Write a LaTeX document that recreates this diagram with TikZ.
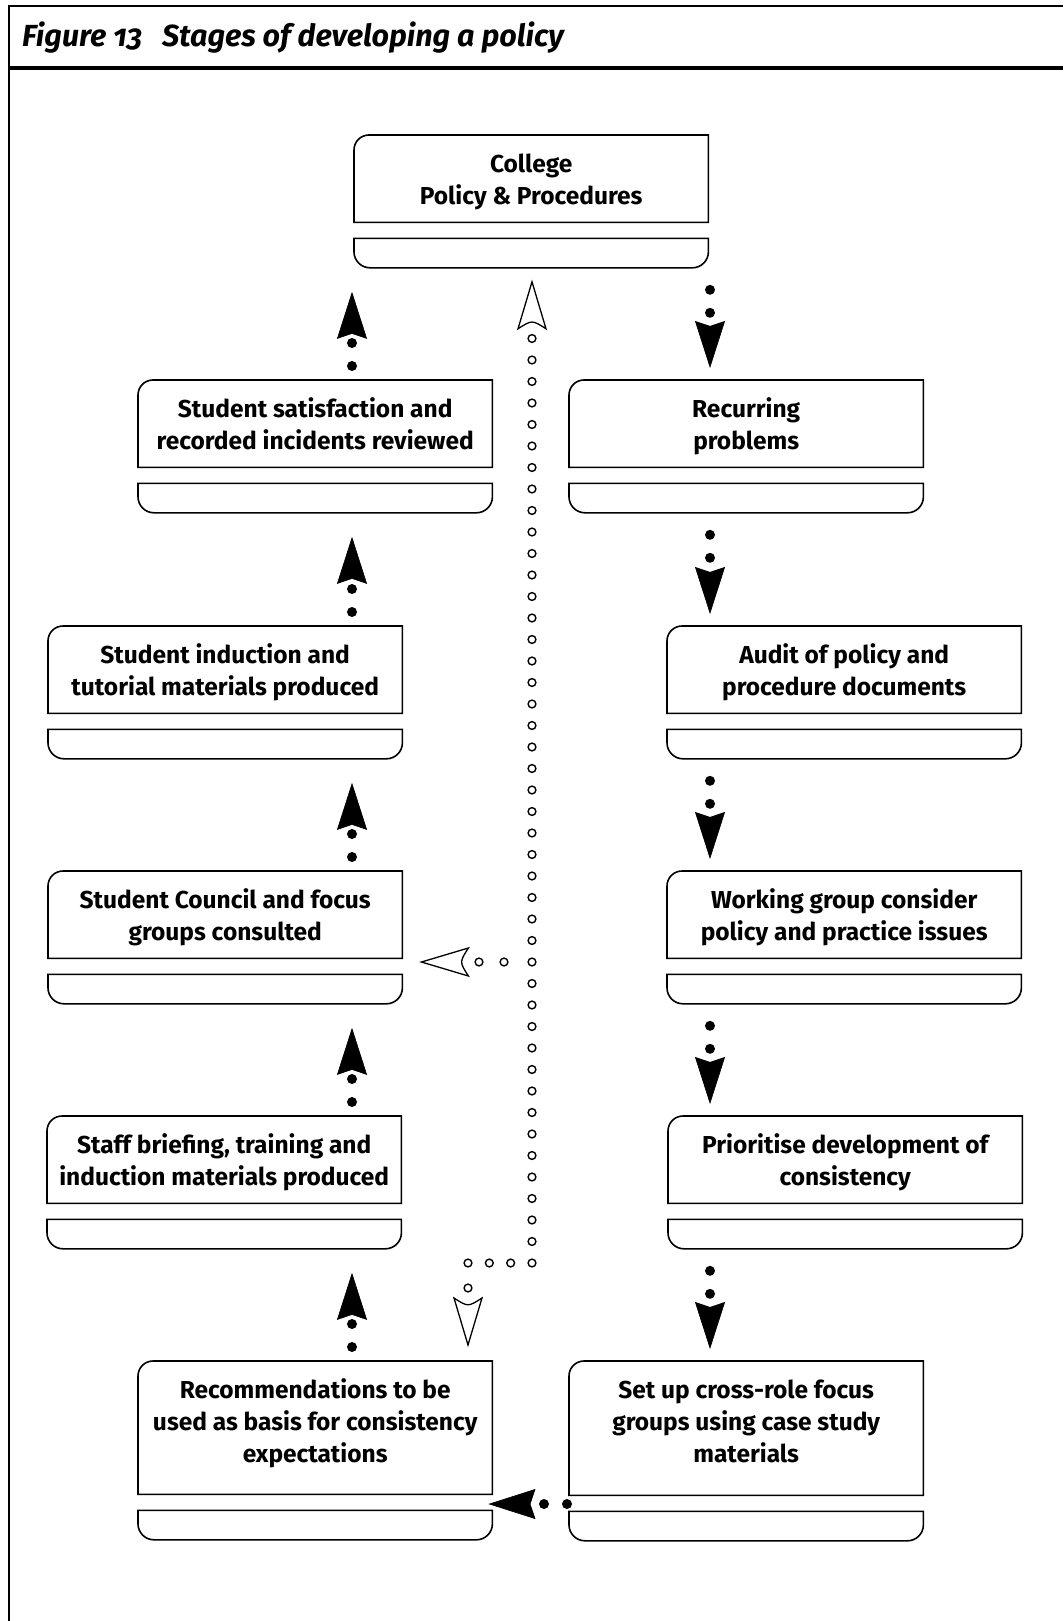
\documentclass[tikz,border=0pt]{standalone}
\usepackage{fontspec}
\setmainfont{Fira Sans}
\newfontfamily\titlefont[Numbers=OldStyle]{Fira Sans}
\usetikzlibrary{arrows.meta,calc}

\tikzset{
  stageframe/.style={inner sep=0pt, minimum width=354pt},
  stage/.style={inner sep=0pt, align=center,
    font=\bfseries\fontsize{24.5}{32}\selectfont},
  trayslot/.style={inner sep=0pt, minimum width=354pt, minimum height=29pt},
  outline/.style={line width=1.6pt, line join=miter},
  dotflow/.style={line width=10pt, line cap=round, dash pattern=on 0pt off 23pt,
    -{Stealth[length=47pt, width=30pt, inset=5pt, line width=0.6pt]}},
  ring/.style={line width=1.4pt},
  openhead/.pic={\draw[line width=1.3pt, fill=white, line join=miter]
    (0pt,0pt) -- (-47pt,14pt) .. controls (-38pt,0pt) .. (-47pt,-14pt) -- cycle;}
}

% stage box with one rounded corner, its text, and the tray underneath
% #1 name, #2 x, #3 y (top), #4 height, #5 text offset, #6 text
\newcommand\stagebox[6]{%
  \node[stageframe, minimum height=#4pt, anchor=north west] (#1) at (#2,#3) {};
  \node[stage] (#1x) at ($(#1.center)+(0,#5)$) {\strut #6\strut};
  \node[trayslot, anchor=north west] (#1t) at ($(#1.south west)+(0,16)$) {};
  \draw[outline] (#1.south west) -- ($(#1.north west)+(0,15)$)
    arc[start angle=180, end angle=90, radius=15pt]
    -- (#1.north east) -- (#1.south east) -- cycle;
  \draw[outline] (#1t.north west) -- ($(#1t.south west)+(0,-16)$)
    arc[start angle=180, end angle=270, radius=16pt]
    -- ($(#1t.south east)+(-16,0)$)
    arc[start angle=270, end angle=360, radius=16pt]
    -- (#1t.north east) -- cycle;
}

\begin{document}
\begin{tikzpicture}[x=1pt, y=-1pt]
\useasboundingbox (0,0) rectangle (1063,1621);

% frame and heading
\draw[line width=1.5pt] (9,1621) -- (9,6) -- (1063,6);
\draw[line width=3.5pt] (9,68) -- (1063,68);
\node[anchor=west, inner sep=0pt,
  font=\titlefont\itshape\bfseries\fontsize{30.5}{34}\selectfont]
  (title) at (22,38) {Figure 13\hspace{0.65em}Stages of developing a policy};

% stages
\stagebox{college}{354}{135}{87}{3}{College\\Policy \& Procedures}
\stagebox{ssat}{138}{380}{87}{3}{Student satisfaction and\\recorded incidents reviewed}
\stagebox{recur}{569}{380}{87}{3}{Recurring\\problems}
\stagebox{induct}{48}{626}{87}{3}{Student induction and\\tutorial materials produced}
\stagebox{audit}{667}{626}{87}{3}{Audit of policy and\\procedure documents}
\stagebox{council}{48}{871}{87}{3}{Student Council and focus\\groups consulted}
\stagebox{working}{667}{871}{87}{3}{Working group consider\\policy and practice issues}
\stagebox{staff}{47}{1116}{87}{3}{Staff briefing, training and\\induction materials produced}
\stagebox{prior}{668}{1116}{87}{3}{Prioritise development of\\consistency}
\stagebox{recom}{138}{1361}{133}{-4}{Recommendations to be\\used as basis for consistency\\expectations}
\stagebox{setup}{569}{1361}{134}{-4}{Set up cross-role focus\\groups using case study\\materials}

% columns of the dotted connectors
\coordinate (colL) at (352,0);
\coordinate (colR) at (710,0);
\coordinate (lowbus) at (0,1504);

% upward chain on the left
\draw[dotflow, shorten <=14pt, shorten >=24pt] (ssat.north -| colL) -- (colleget.south -| colL);
\draw[dotflow, shorten <=14pt, shorten >=24pt] (induct.north -| colL) -- (ssatt.south -| colL);
\draw[dotflow, shorten <=14pt, shorten >=24pt] (council.north -| colL) -- (inductt.south -| colL);
\draw[dotflow, shorten <=14pt, shorten >=24pt] (staff.north -| colL) -- (councilt.south -| colL);
\draw[dotflow, shorten <=14pt, shorten >=24pt] (recom.north -| colL) -- (stafft.south -| colL);

% downward chain on the right
\draw[dotflow, shorten <=22pt, shorten >=12pt] (colleget.south -| colR) -- (recur.north -| colR);
\draw[dotflow, shorten <=22pt, shorten >=12pt] (recurt.south -| colR) -- (audit.north -| colR);
\draw[dotflow, shorten <=22pt, shorten >=12pt] (auditt.south -| colR) -- (working.north -| colR);
\draw[dotflow, shorten <=22pt, shorten >=12pt] (workingt.south -| colR) -- (prior.north -| colR);
\draw[dotflow, shorten <=22pt, shorten >=12pt] (priort.south -| colR) -- (setup.north -| colR);

% across the bottom
\draw[dotflow, shorten <=2pt, shorten >=-4pt] (setup.west |- lowbus) -- (recom.east |- lowbus);

% feedback line of open circles
\coordinate (busfoot) at (532,1263);
\coordinate (busturn) at (468,1263);
\coordinate (busbranch) at (532,962);
\foreach \i in {0,...,43}
  \draw[ring] ($(busfoot)+(0,-21.5*\i)$) circle (3.9pt);
\foreach \i in {0,1,2}
  \draw[ring] ($(busturn)+(21.33*\i,0)$) circle (3.9pt);
\draw[ring] ($(busturn)+(0,25)$) circle (3.9pt);
\foreach \d in {28,53}
  \draw[ring] ($(busbranch)+(-\d,0)$) circle (3.9pt);

\pic[rotate=90] at ($(colleget.south -| busfoot)+(0,14)$) {openhead};
\pic[rotate=180] at ($(council.east |- busbranch)+(19,0)$) {openhead};
\pic[rotate=-90] at ($(recom.north -| busturn)+(0,-16)$) {openhead};
\end{tikzpicture}
\end{document}
